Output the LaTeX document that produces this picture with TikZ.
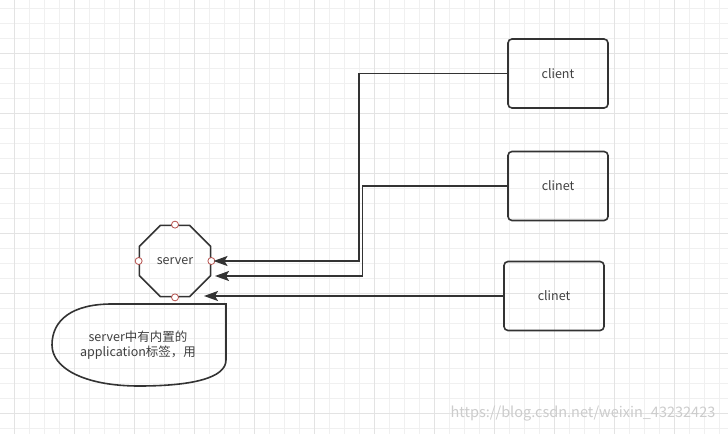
\documentclass[tikz,border=0pt]{standalone}
\usepackage{fontspec}
\setmainfont{Noto Sans CJK SC}
\usetikzlibrary{shapes.geometric,arrows.meta}
\definecolor{inkgray}{HTML}{333333}
\definecolor{textgray}{HTML}{404040}
\definecolor{pointred}{HTML}{B85450}

\tikzset{
        minorgrid/.style={draw=black!6, line width=0.8pt},
        majorgrid/.style={draw=black!11, line width=0.8pt},
        clientbox/.style={draw=inkgray, line width=1.6pt, rounded corners=4pt, minimum width=100pt, minimum height=69pt, inner sep=0pt, text=textgray, font=\fontsize{12.5}{15}\selectfont},
        serverbox/.style={draw=inkgray, line width=1.6pt, regular polygon, regular polygon sides=8, minimum size=77pt, inner sep=0pt, text=textgray, font=\fontsize{12.5}{15}\selectfont},
        port/.style={draw=pointred, fill=white, line width=0.8pt},
        flow/.style={draw=inkgray, line width=1.6pt, -{Stealth[length=14pt, width=10pt, inset=3pt]}},
        notetext/.style={align=center, inner sep=0pt, text=textgray, font=\fontsize{12.5}{15}\selectfont},
        watermark/.style={inner sep=0pt, text=black!20, font=\fontsize{14.5}{17}\selectfont}
}

\begin{document}
\begin{tikzpicture}[x=1pt, y=-1pt]
        \useasboundingbox (0,0) rectangle (728,434);
        \fill[white] (0,0) rectangle (728,434);

        \foreach \gx in {14,29,...,719} \draw[minorgrid] (\gx,0) -- (\gx,434);
        \foreach \gy in {8,23,...,428} \draw[minorgrid] (0,\gy) -- (728,\gy);
        \foreach \gx in {14,74,...,674} \draw[majorgrid] (\gx,0) -- (\gx,434);
        \foreach \gy in {53,113,...,413} \draw[majorgrid] (0,\gy) -- (728,\gy);

        \node[clientbox] (clienta) at (558,73.5) {client};
        \node[clientbox] (clientb) at (558,186) {clinet};
        \node[clientbox] (clientc) at (554,296) {clinet};

        \node[serverbox] (server) at (175,261) {server};
        \foreach \side in {north,south,east,west} \draw[port] (server.\side) circle (3.5pt);

        \draw[draw=inkgray, line width=1.6pt] (226,304) -- (226,360) .. controls (226,378) and (192,386) .. (139,386) .. controls (84,386) and (52,368) .. (52,345) .. controls (52,320) and (72,304) .. (112,304) -- cycle;
        \node[notetext] (note) at (138,345) {server中有内置的\\application标签，用};

        \coordinate (tipa) at (213.5,261);
        \coordinate (tipb) at (215,276);
        \coordinate (tipc) at (204,296);

        \draw[flow] (clienta.west) -| (359,261) -- (tipa);
        \draw[flow] (clientb.west) -| (362.5,276) -- (tipb);
        \draw[flow] (clientc.west) -- (tipc);

        \node[watermark] (mark) at (583,414) {https://blog.csdn.net/weixin\_43232423};
\end{tikzpicture}
\end{document}
